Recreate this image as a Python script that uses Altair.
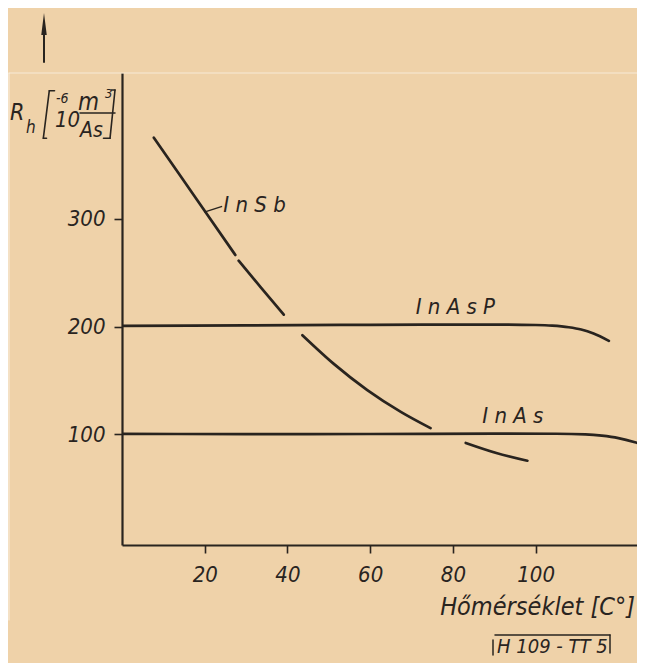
import altair as alt
import pandas as pd

# ---------------- data ----------------
insb_x = [7.7, 14.1, 19.8, 27.4, 28.2, 33.5, 39.1, 43.6, 51.2, 59.3, 67.4, 74.6, 83.1, 90.5, 98.0]
insb_y = [375, 339.7, 308.2, 266.3, 261, 236.5, 211, 192, 165.4, 141.1, 120.9, 105.8, 92.1, 82.8, 75.6]
insb_seg = [1, 1, 1, 1, 2, 2, 2, 3, 3, 3, 3, 3, 4, 4, 4]

inasp_x = [0, 30, 60, 90, 100, 104, 108, 111, 114, 117.7]
inasp_y = [200.6, 201, 201.6, 201.8, 201.4, 200.8, 199.3, 197.2, 193.5, 186.7]

inas_x = [0, 30, 60, 90, 105, 112, 116, 120, 124, 127]
inas_y = [100.5, 100.3, 100.4, 100.7, 100.6, 100, 98.8, 96.6, 92.8, 89.2]

x_ticks = [20, 40, 60, 80, 100]
y_ticks = [100, 200, 300]

curve_labels = ["I n S b", "I n A s P", "I n A s"]
curve_label_x = [24.5, 71.0, 87.1]
curve_label_y = [312.6, 218.3, 117.5]

leader_x = [19.9, 24.2]
leader_y = [306.1, 311.4]

x_title = "Hőmérséklet [C°]"
doc_code = "H 109 - TT 5"

# ---------------- style ----------------
INK = "#29241f"
PAPER = "#efd2a9"
FONT = "DejaVu Sans Condensed, Liberation Sans Narrow, DejaVu Sans"

X_DOMAIN = [0, 124.5]
Y_DOMAIN = [-2.5, 435]
W, H = 515, 472

xs = alt.Scale(domain=X_DOMAIN, nice=False, zero=False)
ys = alt.Scale(domain=Y_DOMAIN, nice=False, zero=False)

insb = pd.DataFrame({"x": insb_x, "y": insb_y, "seg": insb_seg})
inasp = pd.DataFrame({"x": inasp_x, "y": inasp_y})
inas = pd.DataFrame({"x": inas_x, "y": inas_y})
labels = pd.DataFrame({"x": curve_label_x, "y": curve_label_y, "t": curve_labels})
leader = pd.DataFrame({"x": leader_x, "y": leader_y})
one = pd.DataFrame({"a": [0]})

xaxis = alt.Axis(values=x_ticks, grid=False, domainColor=INK, domainWidth=2.2,
                 tickColor=INK, tickWidth=1.6, tickSize=8, labelFont=FONT,
                 labelFontStyle="italic", labelFontSize=22, labelColor=INK,
                 labelPadding=11, title=None)
yaxis = alt.Axis(values=y_ticks, grid=False, domainColor=INK, domainWidth=2.2,
                 tickColor=INK, tickWidth=1.6, tickSize=8, labelFont=FONT,
                 labelFontStyle="italic", labelFontSize=22, labelColor=INK,
                 labelPadding=9, title=None)

base_line = dict(color=INK, strokeWidth=2.7, interpolate="monotone", clip=True,
                 strokeCap="round")

l_insb = alt.Chart(insb).mark_line(**base_line).encode(
    x=alt.X("x:Q", scale=xs, axis=xaxis),
    y=alt.Y("y:Q", scale=ys, axis=yaxis),
    detail="seg:N",
)
l_inasp = alt.Chart(inasp).mark_line(**base_line).encode(
    x=alt.X("x:Q", scale=xs), y=alt.Y("y:Q", scale=ys))
l_inas = alt.Chart(inas).mark_line(**base_line).encode(
    x=alt.X("x:Q", scale=xs), y=alt.Y("y:Q", scale=ys))
l_leader = alt.Chart(leader).mark_line(color=INK, strokeWidth=1.4).encode(
    x=alt.X("x:Q", scale=xs), y=alt.Y("y:Q", scale=ys))
t_labels = alt.Chart(labels).mark_text(
    font=FONT, fontStyle="italic", fontSize=22, color=INK, align="left",
    baseline="middle").encode(
    x=alt.X("x:Q", scale=xs), y=alt.Y("y:Q", scale=ys), text="t:N")

layers = [l_insb, l_inasp, l_inas, l_leader, t_labels]


def txt(s, rx, ry, size, align="left"):
    return alt.Chart(one).mark_text(
        text=s, font=FONT, fontStyle="italic", fontSize=size, color=INK,
        align=align, baseline="alphabetic").encode(x=alt.value(rx), y=alt.value(ry))


def seg(x1, y1, x2, y2, w=1.6, color=INK, opacity=1.0):
    return alt.Chart(one).mark_rule(color=color, strokeWidth=w, opacity=opacity,
                                    strokeCap="round").encode(
        x=alt.value(x1), y=alt.value(y1), x2=alt.value(x2), y2=alt.value(y2))


# faint scan edges
layers += [seg(-113, 0, 515, 0, w=1.2, color="#ffffff", opacity=0.55),
           seg(-113, 0, -113, 547, w=1.2, color="#ffffff", opacity=0.55)]

# y title  R_h [10^-6 m^3 / As]
layers += [
    txt("R", -112, 47, 23),
    txt("h", -96, 60, 17),
    txt("10", -67, 54, 22),
    txt("-6", -66, 30, 14),
    txt("m", -44, 37, 24),
    txt("3", -17, 25, 13),
    txt("As", -42, 64, 21),
    seg(-42, 40, -7, 40, w=1.5),
    seg(-78.7, 65.3, -72.7, 17.7, w=1.6),
    seg(-72.7, 17.7, -67.5, 17.7, w=1.6),
    seg(-78.7, 65.3, -75.5, 65.3, w=1.6),
    seg(-7, 17, -12, 65.3, w=1.6),
    seg(-12, 65.3, -18.5, 65.3, w=1.6),
    seg(-10.5, 17, -7, 17, w=1.6),
]

# arrow top-left
arrow_head = alt.Chart(one).mark_point(
    shape="M0,-1L0.25,1L-0.25,1Z", filled=True, color=INK, opacity=1, size=484
).encode(x=alt.value(-78), y=alt.value(-49))
layers += [seg(-78, -38, -78, -11, w=2), arrow_head]

# x title
layers += [txt(x_title, 513, 542, 25, align="right")]

# document code box
layers += [
    txt(doc_code, 375, 580, 20),
    seg(373, 562, 488, 562, w=1.5),
    seg(488, 562, 488, 580, w=1.5),
    seg(371, 567, 371, 582, w=1.5),
]

chart = alt.layer(*layers).properties(
    width=W, height=H,
    autosize=alt.AutoSizeParams(type="none"),
    padding={"left": 114, "top": 65, "right": 0, "bottom": 118},
    background=PAPER,
).configure_view(stroke=None)

chart.save("out.html", embed_options={"renderer": "svg", "actions": False})
